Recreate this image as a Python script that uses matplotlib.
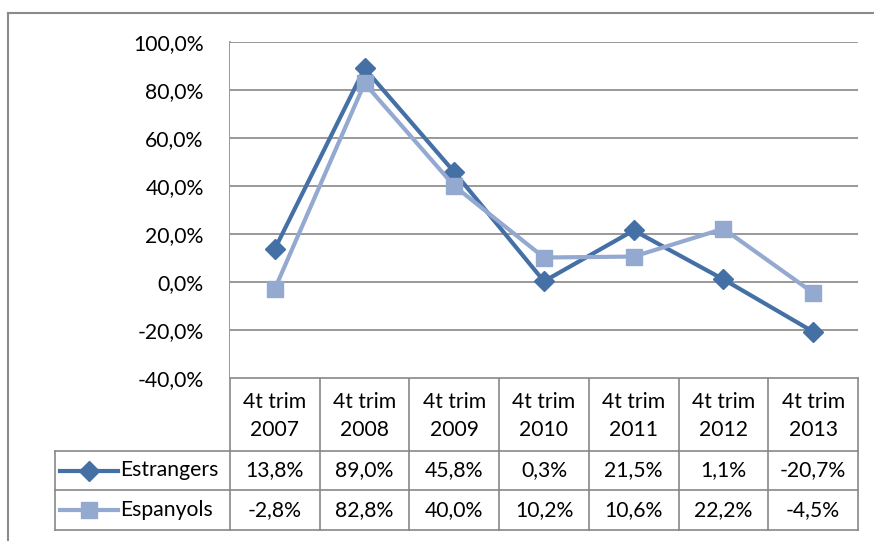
import matplotlib

matplotlib.use("Agg")
from matplotlib import pyplot as plt
from matplotlib.lines import Line2D

plt.rcParams["font.family"] = ["Lato", "DejaVu Sans"]

periods = ["4t trim\n2007", "4t trim\n2008", "4t trim\n2009", "4t trim\n2010",
           "4t trim\n2011", "4t trim\n2012", "4t trim\n2013"]
estrangers = [13.8, 89.0, 45.8, 0.3, 21.5, 1.1, -20.7]
espanyols = [-2.8, 82.8, 40.0, 10.2, 10.6, 22.2, -4.5]
series_names = ["Estrangers", "Espanyols"]
yticks = [-40, -20, 0, 20, 40, 60, 80, 100]

W, H = 874, 541
dark = "#4470A6"
light = "#94A9D0"
grid_c = "#878787"
fs = 15.2


def fmt(v):
    return ("%.1f%%" % v).replace(".", ",")


fig = plt.figure(figsize=(W / 100, H / 100), dpi=100)

# plot area in pixels
px0, px1, py0, py1 = 230, 858, 42, 378
ax = fig.add_axes([px0 / W, 1 - py1 / H, (px1 - px0) / W, (py1 - py0) / H])
n = len(periods)
xs = [i + 0.5 for i in range(n)]
ax.plot(xs, estrangers, color=dark, lw=3, marker="D", ms=10.5, zorder=3)
ax.plot(xs, espanyols, color=light, lw=3, marker="s", ms=12, zorder=4)
ax.set_xlim(0, n)
ax.set_ylim(-40, 100)
ax.set_yticks(yticks)
ax.set_yticklabels([fmt(v) for v in yticks], fontsize=fs)
ax.set_xticks([])
ax.grid(axis="y", color=grid_c, lw=1.2)
ax.tick_params(axis="y", length=0, pad=19)
for s in ax.spines.values():
    s.set_visible(False)

# overlay in pixel coordinates for frame and data table
ov = fig.add_axes([0, 0, 1, 1], zorder=-1)
ov.set_xlim(0, W)
ov.set_ylim(H, 0)
ov.axis("off")


def ln(x0, y0, x1, y1, c=grid_c, lw=1.2):
    ov.add_line(Line2D([x0, x1], [y0, y1], color=c, lw=lw))


# outer chart border
ln(8, 13, W, 13, c="#8a8a8a", lw=1.5)
ln(8, 13, 8, H, c="#8a8a8a", lw=1.5)

cw = (px1 - px0) / n
r0, r1, r2, r3 = py1, 451, 490, 530
tx0 = 55
ln(px0, py0, px0, r3)
for i in range(1, n + 1):
    ln(px0 + i * cw, r0, px0 + i * cw, r3)
ln(px0, r0, px1, r0)
ln(tx0, r1, px1, r1)
ln(tx0, r2, px1, r2)
ln(tx0, r3, px1, r3)
ln(tx0, r1, tx0, r3)

for i, p in enumerate(periods):
    cx = px0 + (i + 0.5) * cw
    ov.text(cx, (r0 + r1) / 2 + 1, p, ha="center", va="center", fontsize=fs,
            linespacing=1.5)
    ov.text(cx, (r1 + r2) / 2, fmt(estrangers[i]), ha="center", va="center",
            fontsize=fs)
    ov.text(cx, (r2 + r3) / 2, fmt(espanyols[i]), ha="center", va="center",
            fontsize=fs)

for (yy0, yy1), name, col, mk, ms in [((r1, r2), series_names[0], dark, "D", 10.5),
                                       ((r2, r3), series_names[1], light, "s", 12)]:
    cy = (yy0 + yy1) / 2
    ov.plot([60, 118], [cy, cy], color=col, lw=3, marker=None)
    ov.plot([89], [cy], color=col, marker=mk, ms=ms)
    ov.text(120, cy, name, ha="left", va="center", fontsize=fs)

fig.savefig("out.png", dpi=100)
